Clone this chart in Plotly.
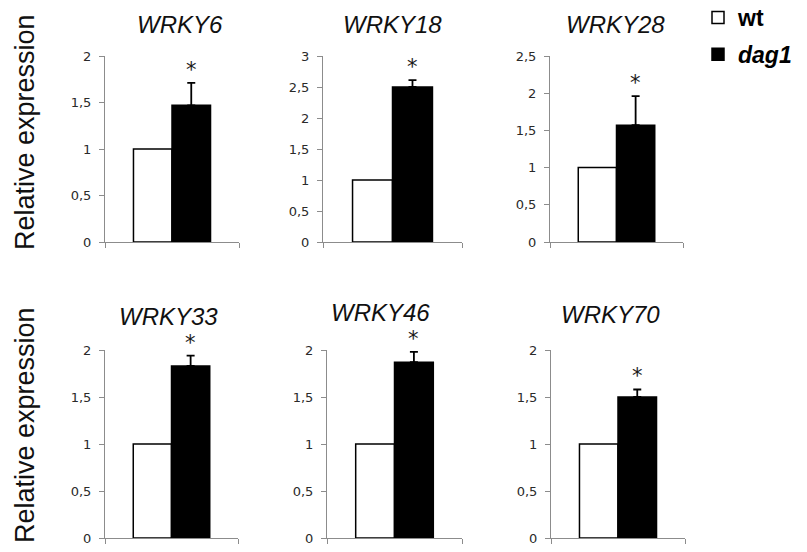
import plotly.graph_objects as go

# ---------------- data ----------------
genes = ["WRKY6", "WRKY18", "WRKY28", "WRKY33", "WRKY46", "WRKY70"]
wt = [1.0, 1.0, 1.0, 1.0, 1.0, 1.0]
dag1 = [1.47, 2.50, 1.57, 1.83, 1.87, 1.50]
dag1_err = [0.24, 0.11, 0.39, 0.11, 0.11, 0.08]
y_max = [2.0, 3.0, 2.5, 2.0, 2.0, 2.0]
significant = ["*", "*", "*", "*", "*", "*"]
series_names = ["wt", "dag1"]
y_title = "Relative expression"

# ---------------- layout helpers (pixel based) ----------------
W, H = 807, 552
BARGAP = 0.425

# panel x extents (px) and y extents (px: top of axis, bottom of axis)
panel_x = [(105, 239), (323, 462), (550, 683), (105, 238), (327, 462), (551, 685)]
panel_y = [(56, 242), (56, 242), (56, 242), (350, 538), (350, 538), (350, 538)]
title_pos = [(180, 25), (392, 25), (615, 25), (168, 316), (380, 312), (610, 314)]


def px_x(v):
    return v / W


def px_y(v):
    return 1 - v / H


fig = go.Figure()
layout_axes = {}
annotations = []

for i, gene in enumerate(genes):
    sfx = "" if i == 0 else str(i + 1)
    xa, ya = "x" + sfx, "y" + sfx
    fig.add_trace(go.Bar(
        x=[0], y=[wt[i]], name="<b>" + series_names[0] + "</b>",
        marker=dict(color="white", line=dict(color="black", width=1.5)),
        offsetgroup="wt", legendgroup="wt", showlegend=(i == 0),
        xaxis=xa, yaxis=ya, hoverinfo="y",
    ))
    fig.add_trace(go.Bar(
        x=[0], y=[dag1[i]], name="<b><i>" + series_names[1] + "</i></b>",
        marker=dict(color="black", line=dict(color="black", width=1.5)),
        error_y=dict(type="data", array=[dag1_err[i]], arrayminus=[0],
                     symmetric=False, color="black", thickness=1.8, width=4),
        offsetgroup="dag1", legendgroup="dag1", showlegend=(i == 0),
        xaxis=xa, yaxis=ya, hoverinfo="y",
    ))
    x0, x1 = panel_x[i]
    yt, yb = panel_y[i]
    layout_axes["xaxis" + sfx] = dict(
        domain=[px_x(x0), px_x(x1)], anchor=ya, range=[-0.5, 0.5],
        showline=True, linecolor="#8c8c8c", linewidth=1,
        tickmode="array", tickvals=[-0.5, 0.5], ticks="outside", ticklen=5,
        tickcolor="#8c8c8c", showticklabels=False, showgrid=False,
        zeroline=False, fixedrange=True, automargin=False,
    )
    layout_axes["yaxis" + sfx] = dict(
        domain=[px_y(yb), px_y(yt)], anchor=xa, range=[0, y_max[i]],
        dtick=0.5, tick0=0, showline=True, linecolor="#8c8c8c", linewidth=1,
        ticks="outside", ticklen=5, tickcolor="#8c8c8c", showgrid=False,
        zeroline=False, ticklabelstandoff=5, automargin=False,
        tickfont=dict(family="DejaVu Sans", size=13, color="#2a2a2a"),
        fixedrange=True,
    )
    # gene title
    tx, ty = title_pos[i]
    annotations.append(dict(
        text="<i>" + gene + "</i>", x=px_x(tx), y=px_y(ty), xref="paper", yref="paper",
        xanchor="center", yanchor="middle", showarrow=False,
        font=dict(family="Liberation Sans", size=24, color="#111111"),
    ))
    # significance star above error bar of dag1 bar
    annotations.append(dict(
        text=significant[i], x=(1 - BARGAP) / 4, y=dag1[i] + dag1_err[i],
        xref=xa, yref=ya, xanchor="center", yanchor="bottom", showarrow=False,
        yshift=-1, font=dict(family="DejaVu Sans", size=21, color="#1a1a1a"),
    ))

# y-axis titles for each row
for cy in (132, 425):
    annotations.append(dict(
        text=y_title, x=px_x(25), y=px_y(cy), xref="paper", yref="paper",
        xanchor="center", yanchor="middle", textangle=-90, showarrow=False,
        font=dict(family="Liberation Sans", size=27, color="#111111"),
    ))

fig.update_layout(
    width=W, height=H, margin=dict(l=0, r=0, t=0, b=0, pad=0, autoexpand=False),
    paper_bgcolor="white", plot_bgcolor="white",
    barmode="group", bargap=BARGAP, bargroupgap=0,
    separators=",.",
    showlegend=True,
    legend=dict(x=px_x(698), y=px_y(-4), xanchor="left", yanchor="top",
                font=dict(family="Liberation Sans", size=23, color="black"),
                bgcolor="rgba(0,0,0,0)", tracegroupgap=4, itemclick=False),
    annotations=annotations,
    **layout_axes,
)

fig.write_html(
    "out.html",
    config={"displayModeBar": False},
    post_script="document.body.style.margin='0px';document.body.style.overflow='hidden';",
)
